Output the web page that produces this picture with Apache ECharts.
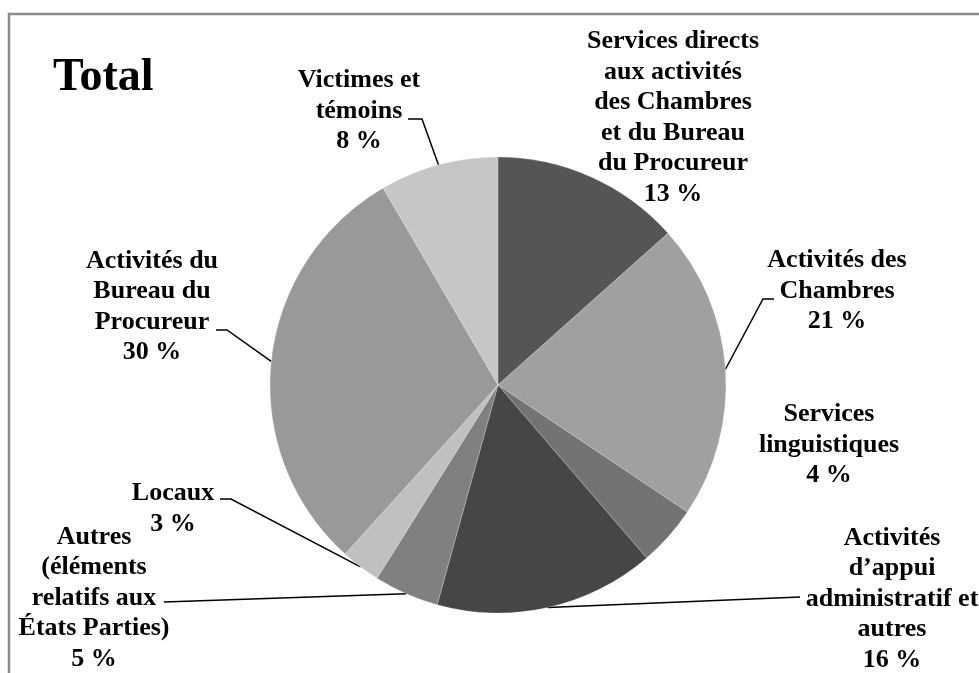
<!DOCTYPE html>
<html>
<head>
<meta charset="utf-8">
<title>Total</title>
<script src="https://cdn.jsdelivr.net/npm/echarts@6/dist/echarts.min.js"></script>
<style>
  html, body { margin: 0; padding: 0; background: #fff; }
  #chart { width: 979px; height: 673px; }
</style>
</head>
<body>
<div id="chart"></div>
<script>
// slices, clockwise from 12 o'clock
var categories = [
  'Services directs\naux activités\ndes Chambres\net du Bureau\ndu Procureur',
  'Activités des\nChambres',
  'Services\nlinguistiques',
  'Activités\nd\u2019appui\nadministratif et\nautres',
  'Autres\n(éléments\nrelatifs aux\nÉtats Parties)',
  'Locaux',
  'Activités du\nBureau du\nProcureur',
  'Victimes et\ntémoins'
];
var shares = [13.4, 21.0, 4.3, 15.6, 4.6, 2.8, 29.9, 8.4];
var sliceColors = ['#555555', '#a0a0a0', '#737373', '#464646', '#808080', '#c0c0c0', '#999999', '#c6c6c6'];

// where Excel put each label (centre) and the elbow of its leader line
var labelSpots = [
  { x: 673, y: 118 },
  { x: 837, y: 291, bend: [[763, 299], [774, 299]] },
  { x: 829, y: 445 },
  { x: 892, y: 599, bend: [[800, 597]] },
  { x: 94, y: 598, bend: [[164, 602]] },
  { x: 173, y: 509, bend: [[231, 499], [220, 499]] },
  { x: 152, y: 307, bend: [[227, 330], [216, 330]] },
  { x: 359, y: 111, bend: [[422, 119], [408, 119]] }
];

var chart = echarts.init(document.getElementById('chart'));

var pieData = [];
for (var i = 0; i < categories.length; i++) {
  pieData.push({
    name: categories[i],
    value: shares[i],
    itemStyle: { color: sliceColors[i] },
    labelLine: { show: !!labelSpots[i].bend }
  });
}

var serif = '"Liberation Serif", "Times New Roman", serif';

var option = {
  animation: false,
  backgroundColor: '#ffffff',
  graphic: [
    {
      type: 'rect',
      shape: { x: 9, y: 14, width: 1000, height: 700 },
      style: { fill: 'none', stroke: '#8c8c8c', lineWidth: 2.5 },
      silent: true
    },
    {
      type: 'text',
      left: 53,
      top: 55,
      style: {
        text: 'Total',
        font: 'bold 46px ' + serif,
        fill: '#000'
      }
    }
  ],
  series: [{
    type: 'pie',
    center: [498, 385],
    radius: 228,
    startAngle: 90,
    clockwise: true,
    avoidLabelOverlap: false,
    itemStyle: { borderColor: 'rgba(255,255,255,0.35)', borderWidth: 0.6 },
    label: {
      show: true,
      position: 'outside',
      fontFamily: serif,
      fontWeight: 'bold',
      fontSize: 26,
      lineHeight: 30.5,
      color: '#000',
      align: 'center',
      formatter: function (p) {
        return p.name + '\n' + Math.round(p.value) + ' %';
      }
    },
    labelLine: {
      show: true,
      length: 20,
      length2: 10,
      smooth: false,
      lineStyle: { color: '#000', width: 1.5 }
    },
    labelLayout: function (params) {
      var spot = labelSpots[params.dataIndex];
      var out = { x: spot.x, y: spot.y, align: 'center', verticalAlign: 'middle' };
      if (spot.bend && params.labelLinePoints) {
        out.labelLinePoints = [params.labelLinePoints[0]].concat(spot.bend);
      }
      return out;
    },
    data: pieData
  }]
};

chart.setOption(option);
</script>
</body>
</html>
